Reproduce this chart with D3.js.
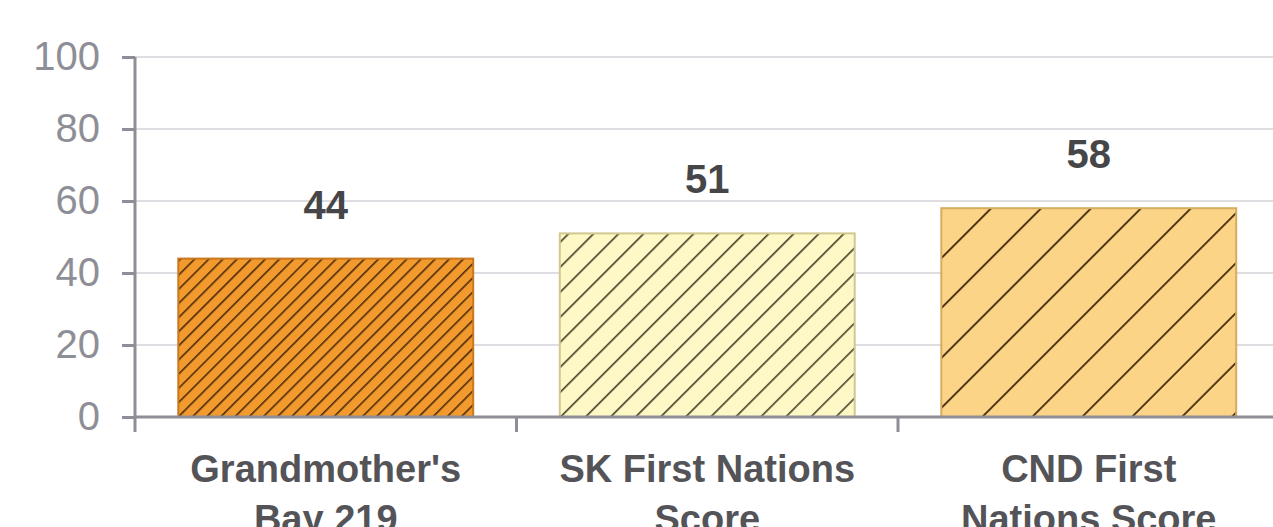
<!DOCTYPE html>
<html>
<head>
<meta charset="utf-8">
<script src="https://cdn.jsdelivr.net/npm/d3@7"></script>
<style>
  html, body { margin: 0; padding: 0; background: #fff; }
  svg { display: block; }
</style>
</head>
<body>
<svg id="chart" width="1273" height="527"></svg>
<script>
// ---- data ----
const categories = ["Grandmother's Bay 219", "SK First Nations Score", "CND First Nations Score"];
const categoryLines = [["Grandmother's", "Bay 219"], ["SK First Nations", "Score"], ["CND First", "Nations Score"]];
const values = [44, 51, 58];
const yTicks = [0, 20, 40, 60, 80, 100];

// ---- styles ----
const fills = ["#f39a2f", "#fef8c6", "#fcd487"];
const strokes = ["#c9781e", "#cfc890", "#d6ac5e"];
const hatchColors = ["#4a2a05", "#4d4a30", "#4a3210"];
const hatchSpacing = [10, 17.7, 35.3];
const hatchWidth = [1.6, 1.7, 1.9];

const svg = d3.select("#chart");
const W = 1273, H = 527;
const margin = { left: 135, top: 57, bottom: 110 };
const plotRight = 1279.5;
const y0 = 417;

const x = d3.scaleBand().domain(categories).range([margin.left, plotRight]).paddingInner(0.227).paddingOuter(0.1135);
const y = d3.scaleLinear().domain([0, 100]).range([y0, margin.top]);

const defs = svg.append("defs");
categories.forEach((c, i) => {
  const s = hatchSpacing[i];
  const p = defs.append("pattern")
    .attr("id", "hatch" + i)
    .attr("patternUnits", "userSpaceOnUse")
    .attr("width", s).attr("height", s)
    .attr("patternTransform", "rotate(45)");
  p.append("rect").attr("width", s).attr("height", s).attr("fill", fills[i]);
  p.append("line").attr("x1", 0).attr("y1", 0).attr("x2", 0).attr("y2", s)
    .attr("stroke", hatchColors[i]).attr("stroke-width", hatchWidth[i] * 2);
});

// gridlines
svg.append("g").selectAll("line").data(yTicks.filter(d => d > 0)).join("line")
  .attr("x1", margin.left).attr("x2", W)
  .attr("y1", d => y(d)).attr("y2", d => y(d))
  .attr("stroke", "#dedee2").attr("stroke-width", 2);

// bars
svg.append("g").selectAll("rect").data(values).join("rect")
  .attr("x", (d, i) => x(categories[i]))
  .attr("y", d => y(d))
  .attr("width", x.bandwidth())
  .attr("height", d => y0 - y(d))
  .attr("fill", (d, i) => `url(#hatch${i})`)
  .attr("stroke", (d, i) => strokes[i])
  .attr("stroke-width", 2);

// y axis
const axisColor = "#8e8e96";
const yAxis = svg.append("g").attr("transform", `translate(${margin.left},0)`)
  .call(d3.axisLeft(y).tickValues(yTicks).tickSize(13).tickPadding(22));
yAxis.select(".domain").remove();
yAxis.selectAll(".tick line").attr("stroke", axisColor).attr("stroke-width", 3);
yAxis.selectAll(".tick text")
  .attr("fill", axisColor)
  .attr("font-family", "Liberation Sans, Arial, sans-serif")
  .attr("font-size", 40);
svg.append("line").attr("x1", margin.left).attr("x2", margin.left)
  .attr("y1", y(100)).attr("y2", y0 + 15)
  .attr("stroke", axisColor).attr("stroke-width", 3);

// x axis
svg.append("line").attr("x1", margin.left).attr("x2", W)
  .attr("y1", y0).attr("y2", y0)
  .attr("stroke", axisColor).attr("stroke-width", 3);
const boundaries = d3.range(1, categories.length).map(i => x.range()[0] + i * x.step());
svg.append("g").selectAll("line").data(boundaries).join("line")
  .attr("x1", d => d).attr("x2", d => d)
  .attr("y1", y0).attr("y2", y0 + 15)
  .attr("stroke", axisColor).attr("stroke-width", 3);

// value labels
svg.append("g").selectAll("text").data(values).join("text")
  .attr("x", (d, i) => x(categories[i]) + x.bandwidth() / 2)
  .attr("y", d => y(d) - 40)
  .attr("text-anchor", "middle")
  .attr("font-family", "Liberation Sans, Arial, sans-serif")
  .attr("font-weight", "bold")
  .attr("font-size", 40)
  .attr("fill", "#464649")
  .text(d => d);

// category labels
const cl = svg.append("g").selectAll("text").data(categories).join("text")
  .attr("x", d => x(d) + x.bandwidth() / 2)
  .attr("y", 482)
  .attr("text-anchor", "middle")
  .attr("font-family", "Liberation Sans, Arial, sans-serif")
  .attr("font-weight", "bold")
  .attr("font-size", 38)
  .attr("fill", "#545458");
cl.each(function(d, i) {
  const t = d3.select(this);
  categoryLines[i].forEach((ln, j) => {
    t.append("tspan").attr("x", x(d) + x.bandwidth() / 2).attr("dy", j === 0 ? 0 : 50).text(ln);
  });
});
</script>
</body>
</html>
